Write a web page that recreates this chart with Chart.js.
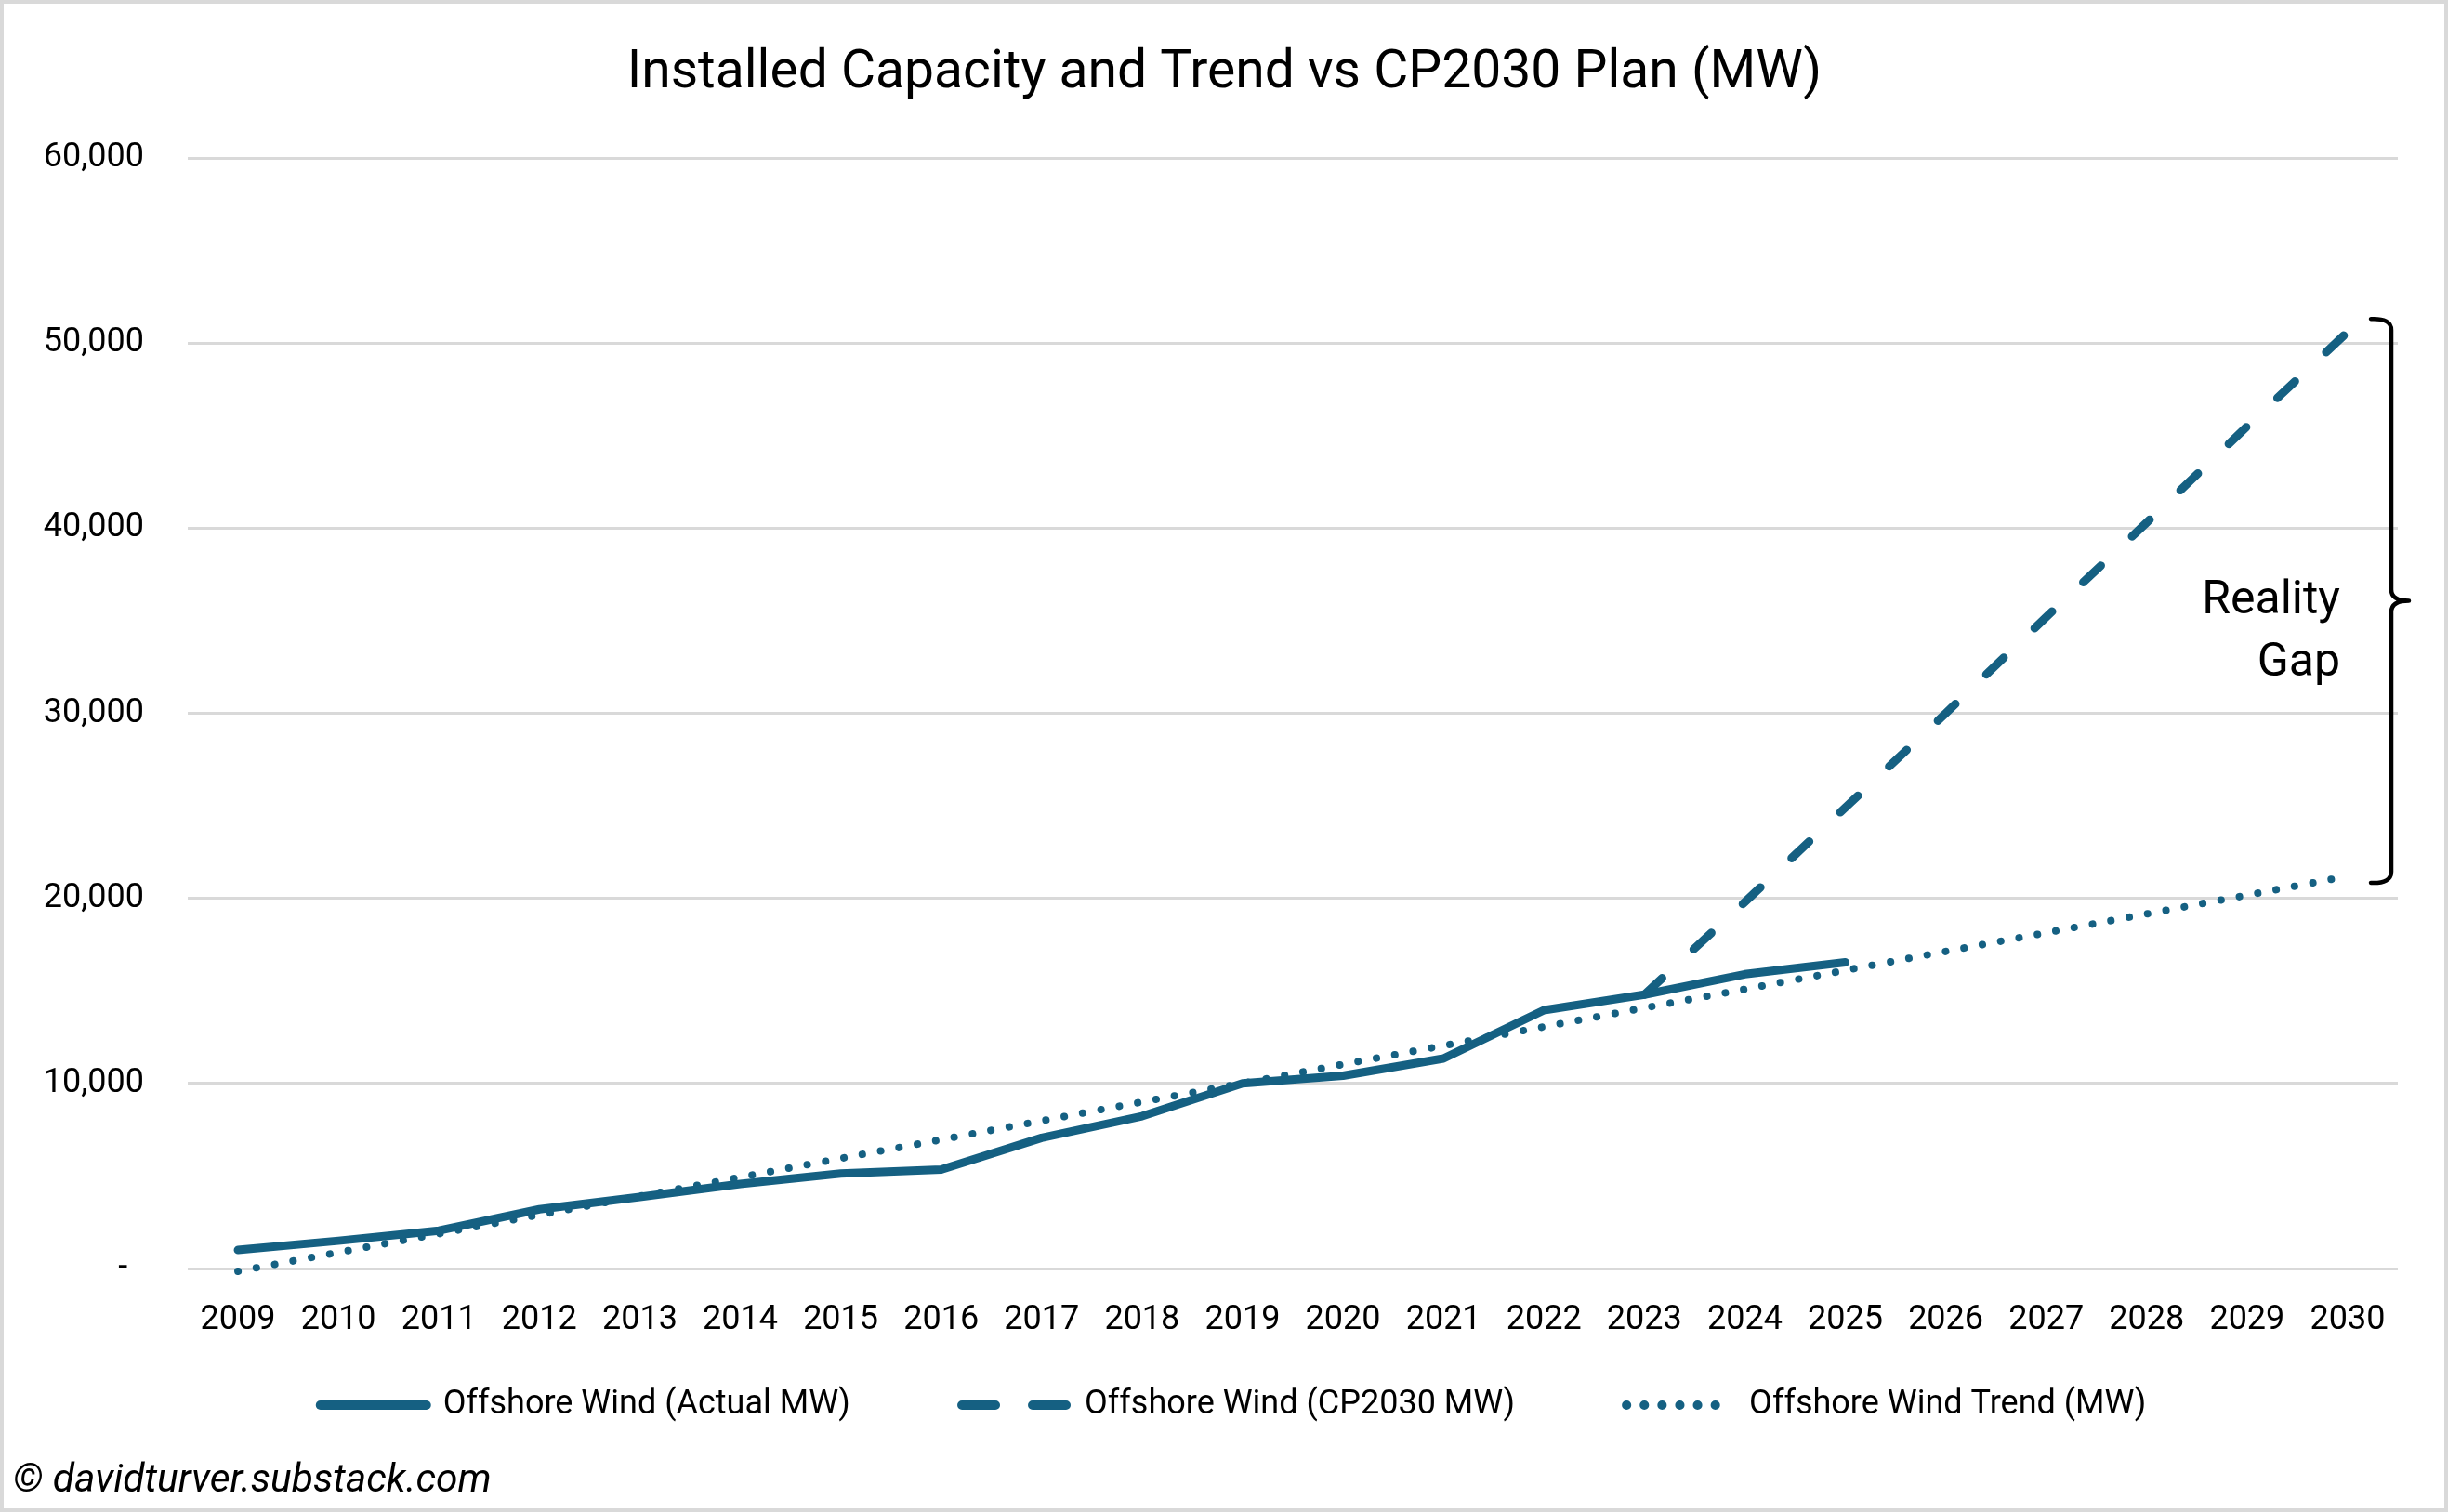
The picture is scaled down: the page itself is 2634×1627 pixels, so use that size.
<!DOCTYPE html>
<html>
<head>
<meta charset="utf-8">
<script src="https://cdn.jsdelivr.net/npm/chart.js@4.4.1/dist/chart.umd.min.js"></script>
<style>
html, body { margin: 0; padding: 0; background: #ffffff; }
#wrap { width: 2634px; height: 1627px; box-sizing: border-box; border: 4px solid #d9d9d9; background: #fff; }
canvas { display: block; }
</style>
</head>
<body>
<div id="wrap"><canvas id="c" width="2626" height="1619"></canvas></div>
<script>
// ---- data ----
const years = ['2009','2010','2011','2012','2013','2014','2015','2016','2017','2018','2019',
               '2020','2021','2022','2023','2024','2025','2026','2027','2028','2029','2030'];
const actualMW = [1000, 1500, 2050, 3200, 3870, 4570, 5130, 5350, 7060, 8230, 10000,
                  10420, 11350, 13960, 14800, 15900, 16540, null, null, null, null, null];
const cp2030MW = [null, null, null, null, null, null, null, null, null, null, null,
                  null, null, null, 14800, 19800, 24900, 30000, 35200, 40300, 45500, 50600];
const trendMW  = [-150, 870, 1880, 2900, 3910, 4930, 5950, 6960, 7980, 9000, 10010,
                  11030, 12040, 13060, 14080, 15090, 16110, 17130, 18140, 19160, 20170, 21190];
const yTickValues = [0, 10000, 20000, 30000, 40000, 50000, 60000];
const seriesNames = ['Offshore Wind (Actual MW)', 'Offshore Wind (CP2030 MW)', 'Offshore Wind Trend (MW)'];
const chartTitle = 'Installed Capacity and Trend vs CP2030 Plan (MW)';
const footerText = '\u00A9 davidturver.substack.com';
const gapLabel = ['Reality', 'Gap'];

// ---- style ----
const FONT = 'Roboto, "Open Sans", sans-serif';
const BLUE = '#156082';
const GRID = '#d9d9d9';
const legendDash = [[], [36, 40], [0.1, 19]];
const LEGEND_PAD = '\u2003\u2003\u2003';
const TITLE_SHIFT = '\u2002\u2009';
const LEGEND_OFFSET_X = 30;

const legendShiftPlugin = {
  id: 'legendShift',
  afterLayout(chart) {
    if (chart.legend) {
      chart.legend.left += LEGEND_OFFSET_X;
      chart.legend.right += LEGEND_OFFSET_X;
    }
  }
};

const bracketPlugin = {
  id: 'realityGap',
  afterDatasetsDraw(chart) {
    const ctx = chart.ctx;
    const ys = chart.scales.y;
    const area = chart.chartArea;
    const top = ys.getPixelForValue(cp2030MW[cp2030MW.length - 1]) - 14;
    const bot = ys.getPixelForValue(trendMW[trendMW.length - 1]) + 7;
    const mid = (top + bot) / 2;
    const x = area.right - 7;
    const r = 12;
    ctx.save();
    ctx.strokeStyle = '#000';
    ctx.lineWidth = 4.5;
    ctx.lineCap = 'round';
    ctx.lineJoin = 'round';
    ctx.beginPath();
    ctx.moveTo(x - 22, top);
    ctx.quadraticCurveTo(x, top - 1, x, top + r);
    ctx.lineTo(x, mid - r);
    ctx.quadraticCurveTo(x, mid, x + 19, mid);
    ctx.moveTo(x + 19, mid);
    ctx.quadraticCurveTo(x, mid, x, mid + r);
    ctx.lineTo(x, bot - r);
    ctx.quadraticCurveTo(x, bot + 1, x - 22, bot);
    ctx.stroke();
    ctx.fillStyle = '#000';
    ctx.font = '50px ' + FONT;
    ctx.textAlign = 'right';
    ctx.textBaseline = 'middle';
    ctx.fillText(gapLabel[0], x - 55, mid + 1);
    ctx.fillText(gapLabel[1], x - 55, mid + 68);
    ctx.restore();
  }
};

const chart = new Chart(document.getElementById('c'), {
  type: 'line',
  data: {
    labels: years,
    datasets: [
      {
        label: seriesNames[0], data: actualMW, order: 0,
        borderColor: BLUE, backgroundColor: BLUE, borderWidth: 9,
        borderCapStyle: 'round', borderJoinStyle: 'round',
        pointRadius: 0, tension: 0, spanGaps: false
      },
      {
        label: seriesNames[1], data: cp2030MW, order: 1,
        borderColor: BLUE, backgroundColor: BLUE, borderWidth: 9,
        borderDash: [26, 46], borderCapStyle: 'round', borderJoinStyle: 'round',
        pointRadius: 0, tension: 0
      },
      {
        label: seriesNames[2], data: trendMW, order: 2,
        borderColor: BLUE, backgroundColor: BLUE, borderWidth: 8,
        borderDash: [0.1, 20], borderCapStyle: 'round', borderJoinStyle: 'round',
        pointRadius: 0, tension: 0, clip: 10
      }
    ]
  },
  options: {
    responsive: false,
    devicePixelRatio: 1,
    animation: false,
    events: [],
    layout: { padding: { left: 10, right: 50, top: 10, bottom: 3 } },
    plugins: {
      title: {
        display: true, text: TITLE_SHIFT + chartTitle, color: '#000',
        font: { family: FONT, size: 57, weight: 'normal' },
        padding: { top: 32, bottom: 55.6 }
      },
      subtitle: {
        display: true, text: footerText, position: 'bottom', align: 'start', color: '#000',
        font: { family: FONT, size: 42.5, style: 'italic', weight: 'normal' },
        padding: { top: 29, bottom: 0 }
      },
      legend: {
        position: 'bottom',
        labels: {
          usePointStyle: true, pointStyle: 'line', pointStyleWidth: 114,
          color: '#000', padding: 10,
          font: { family: FONT, size: 36 },
          generateLabels: (ch) => ch.data.datasets.map((ds, i) => ({
            text: ds.label + (i < 2 ? LEGEND_PAD : ''),
            fillStyle: ds.borderColor, strokeStyle: ds.borderColor,
            lineWidth: 10, lineDash: legendDash[i], lineDashOffset: 0,
            lineCap: 'round', lineJoin: 'round', pointStyle: 'line', rotation: 0,
            hidden: false, datasetIndex: i, fontColor: '#000'
          }))
        }
      },
      tooltip: { enabled: false }
    },
    scales: {
      x: {
        offset: true,
        grid: { display: false, drawTicks: false },
        border: { display: false },
        ticks: { color: '#000', font: { family: FONT, size: 36 }, padding: 34, maxRotation: 0, autoSkip: false },
        afterFit: (s) => { s.height = 119; }
      },
      y: {
        min: 0, max: 60000,
        afterBuildTicks: (s) => { s.ticks = yTickValues.map(v => ({ value: v })); },
        grid: { color: GRID, lineWidth: 3, drawTicks: false },
        border: { display: false },
        ticks: {
          color: '#000', font: { family: FONT, size: 36 }, padding: 47,
          callback: (v) => v === 0 ? '-  ' : Number(v).toLocaleString('en-US')
        },
        afterFit: (s) => { s.width = 188; }
      }
    }
  },
  plugins: [legendShiftPlugin, bracketPlugin]
});
</script>
</body>
</html>
